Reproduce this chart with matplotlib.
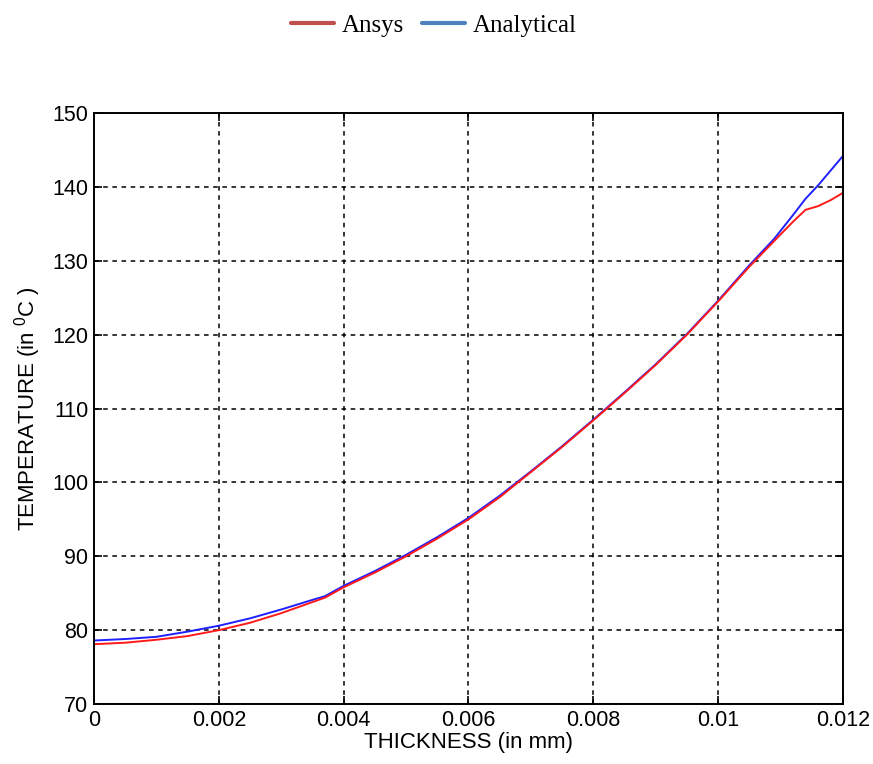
import numpy as np
import matplotlib.pyplot as plt
from matplotlib.lines import Line2D

# thickness (mm) vs temperature (deg C)
thickness = [0.0, 0.0005, 0.001, 0.0015, 0.002, 0.0025, 0.003, 0.0035, 0.0037,
             0.004, 0.0045, 0.005, 0.0055, 0.006, 0.0065, 0.007, 0.0075, 0.008,
             0.0085, 0.009, 0.0095, 0.01, 0.0105, 0.0109, 0.0112, 0.0114,
             0.0116, 0.0118, 0.012]
ansys = [78.1, 78.3, 78.7, 79.2, 80.0, 81.0, 82.3, 83.8, 84.4,
         85.8, 87.8, 90.0, 92.4, 95.0, 98.0, 101.4, 104.8, 108.4,
         112.1, 115.9, 120.0, 124.5, 129.2, 132.7, 135.3, 136.9,
         137.4, 138.2, 139.2]
analytical = [78.6, 78.8, 79.1, 79.8, 80.6, 81.6, 82.8, 84.1, 84.6,
              86.0, 88.0, 90.2, 92.6, 95.2, 98.2, 101.5, 104.9, 108.5,
              112.2, 116.0, 120.1, 124.6, 129.4, 133.0, 136.2, 138.4,
              140.2, 142.2, 144.2]

xticks = [0, 0.002, 0.004, 0.006, 0.008, 0.01, 0.012]
xtick_labels = ["0", "0.002", "0.004", "0.006", "0.008", "0.01", "0.012"]
yticks = np.arange(70, 151, 10)

plt.rcParams["font.family"] = ["Liberation Sans", "DejaVu Sans"]
plt.rcParams["mathtext.fontset"] = "custom"
plt.rcParams["mathtext.rm"] = "Liberation Sans"

fig = plt.figure(figsize=(8.73, 7.64), dpi=100)
ax = fig.add_axes([0.1077, 0.0785, 0.8579, 0.7735])

ax.plot(thickness, analytical, color="#2020ff", linewidth=1.4)
ax.plot(thickness, ansys, color="#ff1a1a", linewidth=1.4)

ax.set_xlim(0, 0.012)
ax.set_ylim(70, 150)
ax.set_xticks(xticks)
ax.set_xticklabels(xtick_labels)
ax.set_yticks(yticks)
ax.tick_params(direction="in", top=True, right=True, labelsize=15.5,
               length=6, width=1.2, pad=4)
for s in ax.spines.values():
    s.set_linewidth(1.4)

ax.grid(True, color="black", linestyle=(0, (3, 3)), linewidth=1.1)
ax.set_axisbelow(True)

ax.set_xlabel("THICKNESS (in mm)", fontsize=16, labelpad=1)
ax.set_ylabel("TEMPERATURE (in $^{\\mathrm{0}}$C )", fontsize=16, labelpad=7)

handles = [Line2D([], [], color="#c0504d", linewidth=3, solid_capstyle="round"),
           Line2D([], [], color="#4f81bd", linewidth=3, solid_capstyle="round")]
fig.legend(handles, ["Ansys", "Analytical"], loc="center",
           bbox_to_anchor=(0.497, 0.966), ncol=2, frameon=False,
           prop={"family": "Liberation Serif", "size": 18},
           handlelength=1.7, handletextpad=0.3, columnspacing=0.75)

fig.savefig("out.png", dpi=100)
